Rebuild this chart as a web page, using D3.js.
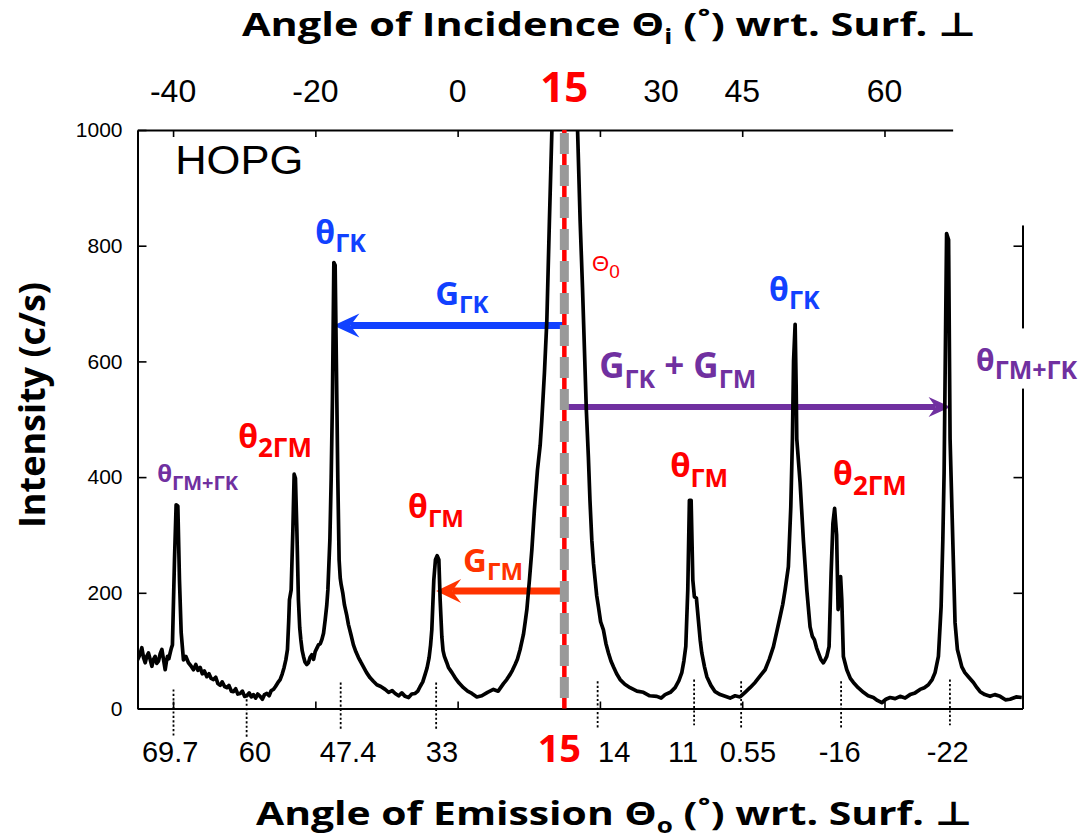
<!DOCTYPE html>
<html>
<head>
<meta charset="utf-8">
<script src="https://cdn.jsdelivr.net/npm/d3@7"></script>
<style>
  html, body { margin: 0; padding: 0; background: #ffffff; }
  svg { display: block; }
</style>
</head>
<body>
<svg id="chart" width="1080" height="838"></svg>
<script>
// ---------------- data ----------------
// [scan angle (deg, incidence scale), intensity (c/s)]
const spectrum = [
  [-45.0,84],[-44.7,92],[-44.39,105],[-44.15,88],[-43.92,79],[-43.7,90],[-43.46,96],[-43.2,84],[-42.98,73],
  [-42.75,85],[-42.52,90],[-42.3,78],[-42.05,82],[-41.8,95],[-41.57,102],[-41.35,85],[-41.11,67],[-40.95,80],
  [-40.79,90],[-40.6,86],[-40.41,96],[-40.25,104],[-40.09,110],
  [-39.80,257],[-39.57,352],[-39.33,350],[-39.10,222],[-38.86,131],[-38.54,84],
  [-38.2,90],[-37.84,79],[-37.5,74],[-37.13,67],[-36.8,76],[-36.5,66],[-36.19,71],[-35.9,60],[-35.6,65],
  [-35.25,55],[-34.95,60],[-34.65,52],[-34.32,50],[-34.0,54],[-33.7,43],[-33.38,40],[-33.1,46],[-32.75,38],
  [-32.44,36],[-32.15,40],[-31.8,30],[-31.51,29],[-31.2,34],[-30.9,25],[-30.57,26],[-30.25,30],[-29.95,21],
  [-29.63,22],[-29.3,27],[-29.0,20],[-28.70,24],[-28.4,18],[-28.1,25],[-27.76,21],[-27.45,16],[-27.15,24],
  [-26.82,26],[-26.5,22],[-26.2,31],[-25.89,33],[-25.6,38],[-25.25,45],[-24.95,50],[-24.65,60],[-24.39,71],
  [-24.15,84],[-23.92,102],[-23.75,150],[-23.64,188],[-23.40,205],[-23.16,309],[-22.98,405],[-22.80,398],
  [-22.60,309],[-22.38,188],[-22.2,140],[-22.04,119],[-21.85,100],[-21.67,90],[-21.45,80],[-21.20,76],
  [-20.97,79],[-20.75,88],[-20.49,93],[-20.25,85],[-20.03,98],[-19.8,104],[-19.56,110],[-19.3,112],
  [-19.09,119],[-18.85,130],[-18.62,153],[-18.4,178],[-18.24,205],[-17.96,291],[-17.78,395],[-17.60,533],
  [-17.40,771],[-17.22,766],[-16.98,533],[-16.84,395],[-16.66,257],[-16.5,225],[-16.37,214],[-16.15,200],
  [-15.91,179],[-15.6,162],[-15.35,145],[-15.0,128],[-14.65,110],[-14.3,98],[-13.94,88],[-13.6,80],
  [-13.24,72],[-12.8,62],[-12.30,53],[-11.85,47],[-11.36,41],[-10.8,38],[-10.19,33],[-9.7,28],[-9.2,31],
  [-8.78,26],[-8.3,22],[-7.85,27],[-7.38,21],[-6.9,19],[-6.45,25],[-5.97,26],[-5.6,30],[-5.27,38],
  [-4.9,46],[-4.57,59],[-4.3,70],[-4.01,88],[-3.8,110],[-3.63,136],[-3.35,222],[-3.12,257],[-2.88,264],
  [-2.64,257],[-2.46,188],[-2.22,124],[-2.05,100],[-1.86,90],[-1.55,80],[-1.29,71],[-0.8,62],[-0.35,53],
  [0.2,44],[0.82,36],[1.4,30],[2.00,26],[2.7,20],[3.40,22],[4.2,28],[5.03,33],[5.7,30],[6.44,43],
  [6.9,50],[7.38,59],[7.7,66],[8.08,76],[8.4,85],[8.78,102],[9.25,128],[9.5,150],[9.73,171],[10.09,222],
  [10.43,274],[10.79,343],[11.22,412],[11.60,455],[11.83,498],[12.2,580],[12.54,671],[12.90,843],
  [13.24,995],[15.04,1700],[16.87,995],[17.22,843],[17.55,728],[17.84,614],[18.09,516],[18.38,434],
  [18.6,360],[18.86,291],[19.1,250],[19.33,222],[19.55,195],[19.79,176],[20.1,150],[20.49,136],
  [20.85,112],[21.20,96],[21.55,82],[21.90,72],[22.35,60],[22.84,50],[23.5,42],[24.24,36],[25.2,30],
  [26.11,28],[27.0,22],[28.00,21],[28.6,18],[29.16,24],[29.9,28],[30.57,36],[31.1,48],[31.51,62],
  [31.8,82],[32.07,107],[32.35,205],[32.58,360],[32.82,360],[33.06,222],[33.28,193],[33.56,191],
  [33.84,153],[34.1,118],[34.32,96],[34.7,72],[35.03,55],[35.6,40],[36.19,29],[36.9,24],[37.60,21],
  [38.3,18],[39.00,22],[39.7,20],[40.41,28],[41.1,36],[41.81,45],[42.5,56],[43.22,67],[43.8,85],
  [44.39,107],[44.9,135],[45.33,159],[45.7,180],[46.03,205],[46.49,245],[46.83,348],[47.06,466],
  [47.22,600],[47.44,664],[47.58,560],[47.67,466],[48.14,390],[48.60,291],[49.08,205],[49.54,141],
  [49.85,125],[50.15,119],[50.45,105],[50.71,96],[51.05,85],[51.41,79],[51.65,84],[51.89,90],[52.21,107],
  [52.50,234],[52.75,320],[52.99,346],[53.27,300],[53.48,171],[53.83,228],[54.00,188],[54.22,90],
  [54.70,67],[55.2,52],[55.63,45],[56.3,36],[57.04,28],[57.7,22],[58.44,19],[59.0,14],[59.62,10],
  [60.2,16],[60.79,19],[61.5,17],[62.19,21],[62.9,18],[63.60,24],[64.3,27],[65.00,33],[65.6,36],
  [66.17,41],[66.7,50],[67.11,62],[67.58,90],[67.96,176],[68.20,291],[68.38,407],[68.73,821],[69.01,810],
  [69.22,466],[69.60,291],[69.92,148],[70.25,102],[70.87,72],[71.3,62],[71.79,55],[72.50,45],[73.0,36],
  [73.44,29],[74.1,24],[74.84,21],[75.5,24],[76.25,21],[77.0,15],[77.65,16],[78.5,20],[79.30,19]
];

const intensityTicks = [0, 200, 400, 600, 800, 1000];
const frameTicks = [-40, -20, 0, 20, 40, 60];
const incidenceLabels = ["-40", "-20", "0", "15", "30", "45", "60"];
const incidenceAt = [-40, -20, 0, 15, 28.6, 40, 60];
const emissionLabels = ["69.7", "60", "47.4", "33", "15", "14", "11", "0.55", "-16", "-22"];
const emissionAt = [-40.4, -28.5, -15.4, -2.2, 14.3, 22.0, 31.7, 40.8, 53.7, 68.9];
const markerAt = [-39.94, -29.66, -16.44, -3.02, 19.68, 33.24, 39.85, 53.9, 69.2];
const markerTop = [33, 16, 45, 45, 47, 50, 47, 47, 50];
const markerBottom = [-48, -50, -38, -38, -34, -29, -34, -34, -29];
const specularAngle = 15;
const arrowLevels = { GK: 662, GM: 203, sum: 521 };
const arrowTips = { GK: -17.46, GM: -3.02, sum: 69.29 };

// ---------------- setup ----------------
const svg = d3.select("#chart");
const BLUE = "#1141ff", RED = "#ff0000", ORANGE = "#ff3300", PURPLE = "#7030a0";
const BOLD = "'Open Sans', 'DejaVu Sans', sans-serif";
const PLAIN = "'Liberation Sans', Arial, sans-serif";

const x = d3.scaleLinear().domain([-45.0, 79.4]).range([137.5, 1022.5]);
const y = d3.scaleLinear().domain([0, 1000]).range([708.5, 130]);

svg.append("rect").attr("width", 1080).attr("height", 838).attr("fill", "#fff");

svg.append("defs").append("clipPath").attr("id", "plotclip")
  .append("rect").attr("x", x(-45.0)).attr("y", y(1000))
  .attr("width", x(79.4) - x(-45.0)).attr("height", y(0) - y(1000));

// ---------------- arrows (under the curve) ----------------
function arrow(tipU, level, color, width, L, W, N) {
  const tx = x(tipU), ty = y(level), x0 = x(specularAngle);
  const dir = tx > x0 ? 1 : -1;
  svg.append("line").attr("x1", x0).attr("x2", tx - dir * (L - N)).attr("y1", ty).attr("y2", ty)
    .attr("stroke", color).attr("stroke-width", width);
  svg.append("path")
    .attr("d", `M${tx},${ty} L${tx - dir * L},${ty - W} L${tx - dir * (L - N)},${ty} L${tx - dir * L},${ty + W} Z`)
    .attr("fill", color);
}
arrow(arrowTips.GK, arrowLevels.GK, BLUE, 7, 26, 12, 9);
arrow(arrowTips.GM, arrowLevels.GM, ORANGE, 7, 25, 12, 9);
arrow(arrowTips.sum, arrowLevels.sum, PURPLE, 6, 22, 10, 7);

// ---------------- curve ----------------
const line = d3.line().x(d => x(d[0])).y(d => y(d[1]));
svg.append("path").datum(spectrum)
  .attr("clip-path", "url(#plotclip)")
  .attr("d", line).attr("fill", "none").attr("stroke", "#000")
  .attr("stroke-width", 3.7).attr("stroke-linejoin", "round");

// ---------------- axes / frame ----------------
function styleAxis(g) {
  g.selectAll("path.domain").attr("stroke", "#000").attr("stroke-width", 2);
  g.selectAll(".tick line").attr("stroke", "#000").attr("stroke-width", 1.6);
}
const gLeft = svg.append("g").attr("transform", `translate(${x(-45.0)},0)`)
  .call(d3.axisLeft(y).tickValues(intensityTicks).tickFormat(d3.format("d"))
    .tickSizeInner(-9).tickSizeOuter(0).tickPadding(15));
styleAxis(gLeft);
gLeft.selectAll(".tick text").attr("font-family", PLAIN).attr("font-size", 21).attr("fill", "#000");

const gRight = svg.append("g").attr("transform", `translate(${x(79.4)},0)`)
  .call(d3.axisRight(y).tickValues(intensityTicks.slice(1, 5)).tickSizeInner(-9).tickSizeOuter(0).tickFormat(""));
styleAxis(gRight);

const gTop = svg.append("g").attr("transform", `translate(0,${y(1000)})`)
  .call(d3.axisTop(x).tickValues(frameTicks).tickSizeInner(-7).tickSizeOuter(0).tickFormat(""));
styleAxis(gTop);

const gBottom = svg.append("g").attr("transform", `translate(0,${y(0)})`)
  .call(d3.axisBottom(x).tickValues(frameTicks).tickSizeInner(-7).tickSizeOuter(0).tickFormat(""));
styleAxis(gBottom);

// white patches as in the original figure (top-right corner cut, label box)
svg.append("rect").attr("x", x(69.65)).attr("y", y(1000) - 8)
  .attr("width", 1080 - x(69.65)).attr("height", y(835) - y(1000) + 8).attr("fill", "#fff");
svg.append("rect").attr("x", x(71.5)).attr("y", y(657))
  .attr("width", 1080 - x(71.5)).attr("height", y(553) - y(657)).attr("fill", "#fff");

// ---------------- emission markers (dotted) ----------------
svg.append("g").selectAll("line").data(markerAt).join("line")
  .attr("x1", d => x(d)).attr("x2", d => x(d))
  .attr("y1", (d, i) => y(markerTop[i])).attr("y2", (d, i) => y(markerBottom[i]))
  .attr("stroke", "#000").attr("stroke-width", 1.8).attr("stroke-dasharray", "2.2,2.2");

// ---------------- specular line ----------------
svg.append("line").attr("x1", x(specularAngle)).attr("x2", x(specularAngle))
  .attr("y1", y(1000)).attr("y2", y(0)).attr("stroke", RED).attr("stroke-width", 4.5);
svg.append("line").attr("x1", x(specularAngle)).attr("x2", x(specularAngle))
  .attr("y1", y(1000)).attr("y2", y(0)).attr("stroke", "#999").attr("stroke-width", 9)
  .attr("stroke-dasharray", "21,11").attr("stroke-dashoffset", 29);

// ---------------- tick labels ----------------
svg.append("g").selectAll("text").data(incidenceLabels).join("text")
  .attr("x", (d, i) => x(incidenceAt[i])).attr("y", 102)
  .attr("text-anchor", "middle")
  .attr("font-family", (d, i) => incidenceAt[i] === specularAngle ? BOLD : PLAIN)
  .attr("font-weight", (d, i) => incidenceAt[i] === specularAngle ? 700 : 400)
  .attr("font-size", (d, i) => incidenceAt[i] === specularAngle ? 42 : 32)
  .attr("fill", (d, i) => incidenceAt[i] === specularAngle ? RED : "#000")
  .text(d => d);

svg.append("g").selectAll("text").data(emissionLabels).join("text")
  .attr("x", (d, i) => x(emissionAt[i])).attr("y", 762)
  .attr("text-anchor", "middle")
  .attr("font-family", d => d === "15" ? BOLD : PLAIN)
  .attr("font-weight", d => d === "15" ? 700 : 400)
  .attr("font-size", d => d === "15" ? 38 : 29)
  .attr("fill", d => d === "15" ? RED : "#000")
  .text(d => d);

// ---------------- titles ----------------
function rich(parent, parts) {
  parts.forEach(p => {
    const ts = parent.append("tspan").attr("font-size", p.size).text(p.text);
    if (p.dy) ts.attr("dy", p.dy);
  });
  return parent;
}
rich(svg.append("text").attr("x", 242).attr("y", 36).attr("font-family", BOLD).attr("font-weight", 700)
  .attr("textLength", 734).attr("lengthAdjust", "spacingAndGlyphs"),
  [{ text: "Angle of Incidence Θ", size: 33 }, { text: "i", size: 21, dy: 8 },
   { text: " (˚) wrt. Surf. ⊥", size: 33, dy: -8 }]);
rich(svg.append("text").attr("x", 256).attr("y", 825).attr("font-family", BOLD).attr("font-weight", 700)
  .attr("textLength", 716).attr("lengthAdjust", "spacingAndGlyphs"),
  [{ text: "Angle of Emission Θ", size: 33 }, { text: "o", size: 21, dy: 8 },
   { text: " (˚) wrt. Surf. ⊥", size: 33, dy: -8 }]);

svg.append("text").attr("transform", "translate(45,405) rotate(-90)")
  .attr("text-anchor", "middle").attr("font-family", BOLD).attr("font-weight", 700)
  .attr("font-size", 36).attr("fill", "#000").text("Intensity (c/s)");

svg.append("text").attr("x", x(-39.7)).attr("y", y(924)).attr("font-family", PLAIN)
  .attr("font-size", 40).attr("textLength", 128).attr("lengthAdjust", "spacingAndGlyphs")
  .text("HOPG");

// ---------------- peak / vector annotations ----------------
const notes = [
  { at: [-20.0, 803], color: BLUE, parts: [{ text: "θ", size: 32 }, { text: "ΓK", size: 25, dy: 8 }] },
  { at: [-3.16, 697], color: BLUE, parts: [{ text: "G", size: 33 }, { text: "ΓK", size: 24, dy: 8 }] },
  { at: [-42.24, 391], color: PURPLE, parts: [{ text: "θ", size: 24 }, { text: "ΓM+ΓK", size: 20, dy: 8 }] },
  { at: [-30.85, 450], color: RED, parts: [{ text: "θ", size: 32 }, { text: "2ΓM", size: 26, dy: 9 }] },
  { at: [-6.96, 329], color: RED, parts: [{ text: "θ", size: 32 }, { text: "ΓM", size: 24, dy: 9 }] },
  { at: [0.77, 236], color: ORANGE, parts: [{ text: "G", size: 33 }, { text: "ΓM", size: 24, dy: 8 }] },
  { at: [43.78, 705], color: BLUE, parts: [{ text: "θ", size: 32 }, { text: "ΓK", size: 25, dy: 8 }] },
  { at: [19.89, 571], color: PURPLE, parts: [{ text: "G", size: 35 }, { text: "ΓK", size: 25, dy: 10 },
      { text: " + G", size: 35, dy: -10 }, { text: "ΓM", size: 25, dy: 10 }] },
  { at: [72.88, 584], color: PURPLE, parts: [{ text: "θ", size: 30 }, { text: "ΓM+ΓK", size: 25, dy: 8 }] },
  { at: [29.87, 400], color: RED, parts: [{ text: "θ", size: 33 }, { text: "ΓM", size: 25, dy: 10 }] },
  { at: [52.78, 386], color: RED, parts: [{ text: "θ", size: 32 }, { text: "2ΓM", size: 26, dy: 10 }] }
];
notes.forEach(n => {
  rich(svg.append("text").attr("x", x(n.at[0])).attr("y", y(n.at[1])).attr("fill", n.color)
    .attr("font-family", BOLD).attr("font-weight", 700), n.parts);
});
rich(svg.append("text").attr("x", x(18.9)).attr("y", y(757)).attr("fill", RED)
  .attr("font-family", PLAIN), [{ text: "Θ", size: 22 }, { text: "0", size: 19, dy: 7 }]);
</script>
</body>
</html>
